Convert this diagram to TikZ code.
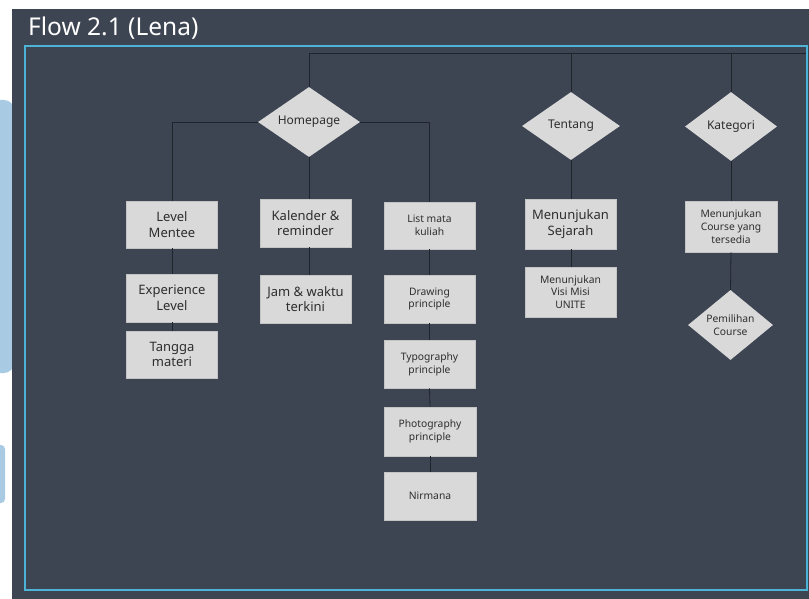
\documentclass[tikz,border=0pt]{standalone}
\usepackage{fontspec}
\setmainfont{Noto Sans}
\usetikzlibrary{shapes.geometric}
\definecolor{panel}{HTML}{3D4452}
\definecolor{frame}{HTML}{4DB4D8}
\definecolor{boxfill}{HTML}{D9D9D9}
\definecolor{boxline}{HTML}{C4C4C4}
\definecolor{lineC}{HTML}{1F232B}
\definecolor{txt}{HTML}{2E2E2E}
\definecolor{sideblue}{HTML}{A8CAE2}
\tikzset{
  x=1pt, y=-1pt,
  box/.style={draw=boxline, line width=0.6pt, fill=boxfill, text=txt, align=center, inner sep=0pt},
  bigbox/.style={box, font=\fontsize{13}{15.5}\selectfont},
  smallbox/.style={box, font=\fontsize{10.3}{12.8}\selectfont},
  dia/.style={diamond, fill=boxfill, text=txt, inner sep=0pt, aspect=1.5},
  conn/.style={draw=lineC, line width=0.8pt},
}
\begin{document}
\begin{tikzpicture}
\useasboundingbox (0,0) rectangle (809,599);
\fill[white] (0,0) rectangle (809,599);
% side shapes
\fill[sideblue, rounded corners=10pt] (-20,100) rectangle (14,373);
\fill[sideblue, rounded corners=4pt] (-10,445) rectangle (5,503);
% panel
\fill[panel] (12,9) rectangle (809,599);
\node[anchor=west, inner sep=0pt, text=white, font=\fontsize{24.5}{27}\selectfont] (title) at (28,28) {Flow 2.1 (Lena)};
\draw[frame, line width=2.2pt] (25,46) rectangle (807,590);

% diamonds
\node[dia, minimum width=102pt, minimum height=70pt, font=\fontsize{12}{14}\selectfont] (home) at (309,122) {Homepage};
\node[dia, minimum width=98pt, minimum height=68pt, font=\fontsize{12}{14}\selectfont] (tentang) at (571,126) {Tentang};
\node[dia, minimum width=92pt, minimum height=69pt, font=\fontsize{12}{14}\selectfont] (kategori) at (731,126.5) {Kategori};
\node[dia, minimum width=85pt, minimum height=70pt, font=\fontsize{10.3}{12.8}\selectfont, align=center] (pemilihan) at (730.5,325) {Pemilihan\\Course};

% boxes
\node[bigbox, minimum width=91pt, minimum height=47pt] (level) at (172,224.5) {Level\\Mentee};
\node[bigbox, minimum width=91pt, minimum height=48pt] (exp) at (172,298) {Experience\\Level};
\node[bigbox, minimum width=91pt, minimum height=47pt] (tangga) at (172,354.5) {Tangga\\materi};
\node[bigbox, minimum width=91pt, minimum height=48pt] (kalender) at (305.5,223) {Kalender \&\\reminder};
\node[bigbox, minimum width=91pt, minimum height=48pt] (jam) at (305.5,299) {Jam \& waktu\\terkini};
\node[smallbox, minimum width=91pt, minimum height=47pt] (list) at (429.5,225.5) {List mata\\kuliah};
\node[smallbox, minimum width=91pt, minimum height=48pt] (drawing) at (429.5,299) {Drawing\\principle};
\node[smallbox, minimum width=91pt, minimum height=48pt] (typo) at (429.5,364) {Typography\\principle};
\node[smallbox, minimum width=92pt, minimum height=49pt] (photo) at (430,431.5) {Photography\\principle};
\node[smallbox, minimum width=92pt, minimum height=48pt] (nirmana) at (430,496) {Nirmana};
\node[bigbox, minimum width=91pt, minimum height=50pt] (sejarah) at (570.5,224) {Menunjukan\\Sejarah};
\node[smallbox, minimum width=91pt, minimum height=50pt] (visi) at (570.5,292) {Menunjukan\\Visi Misi\\UNITE};
\node[smallbox, minimum width=92pt, minimum height=51pt] (course) at (731,226.5) {Menunjukan\\Course yang\\tersedia};

% connector coordinates
\coordinate (topH) at (309,53);
\coordinate (topR) at (806,53);
\coordinate (topT) at (571,53);
\coordinate (topK) at (731,53);
\coordinate (hl) at (172,122);
\coordinate (hr) at (429.5,122);

\draw[conn] (home.north) -- (topH) -- (topR);
\draw[conn] (topT) -- (tentang.north);
\draw[conn] (topK) -- (kategori.north);
\draw[conn] (home.west) -- (hl) -- (level.north);
\draw[conn] (home.east) -- (hr) -- (list.north);
\draw[conn] (home.south) -- (home.south |- kalender.north);
\draw[conn] (level.south) -- (exp.north);
\draw[conn] (exp.south) -- (tangga.north);
\draw[conn] (kalender.south -| home.south) -- (home.south |- jam.north);
\draw[conn] (list.south) -- (drawing.north);
\draw[conn] (drawing.south) -- (typo.north);
\draw[conn] (typo.south) -- (photo.north);
\draw[conn] (photo.south) -- (nirmana.north);
\draw[conn] (tentang.south) -- (tentang.south |- sejarah.north);
\draw[conn] (sejarah.south -| tentang.south) -- (tentang.south |- visi.north);
\draw[conn] (kategori.south) -- (course.north);
\draw[conn] (course.south) -- (pemilihan.north);
\end{tikzpicture}
\end{document}
